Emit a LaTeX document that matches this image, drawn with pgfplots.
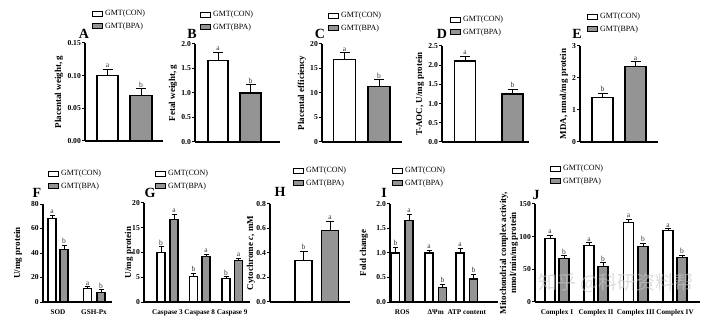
\documentclass[border=0pt]{standalone}
\usepackage{fontspec}
\setmainfont{Liberation Serif}
\newfontfamily\cjk{Noto Sans CJK SC}
\usepackage{pgfplots}
\pgfplotsset{compat=1.18}
\definecolor{barg}{RGB}{148,148,148}
\pgfplotsset{
 panel/.style={
  scale only axis, anchor=south west,
  axis x line*=bottom, axis y line*=left,
  axis line style={-, line width=1.1pt, black},
  xmin=0, ymin=0, enlargelimits=false, clip=false,
  tick align=outside, major tick length=3pt,
  ytick style={line width=1pt, black},
  xtick style={draw=none},
  ticklabel style={font=\bfseries\fontsize{7.6}{8}\selectfont},
  yticklabel style={inner sep=1pt},
  /pgf/number format/assume math mode=true,
  xtick=\empty,
  every axis y label/.style={rotate=90, anchor=center, font=\bfseries\fontsize{9}{10}\selectfont},
  legend style={draw=none, fill=none, at={(axis description cs:0,1)}, anchor=north west, font=\fontsize{8}{9}\selectfont, inner sep=0pt, row sep=1.5pt, cells={anchor=west}},
 },
 yl/.style={ylabel style={at={([xshift=-#1pt]axis description cs:0,0.5)}}},
 cat/.style={xticklabel style={font=\bfseries\fontsize{7.2}{8}\selectfont, yshift=-1pt}},
 con/.style={ybar, bar shift=0pt, fill=white, draw=black, line width=1.1pt,
   legend image code/.code={\draw[fill=white, draw=black, line width=0.9pt] (0pt,-2.4pt) rectangle (10pt,2.6pt);},
   error bars/y dir=plus, error bars/y explicit,
   error bars/error bar style={line width=0.7pt, black},
   error bars/error mark options={rotate=90, mark size=#1, line width=0.7pt, black}},
 con/.default=5pt,
 bpa/.style={ybar, bar shift=0pt, fill=barg, draw=black, line width=1.1pt,
   legend image code/.code={\draw[fill=barg, draw=black, line width=0.9pt] (0pt,-2.4pt) rectangle (10pt,2.6pt);},
   error bars/y dir=plus, error bars/y explicit,
   error bars/error bar style={line width=0.7pt, black},
   error bars/error mark options={rotate=90, mark size=#1, line width=0.7pt, black}},
 bpa/.default=5pt,
 lab/.style={draw=none, forget plot, nodes near coords, point meta=explicit symbolic,
   nodes near coords style={font=\fontsize{7.5}{8}\selectfont, anchor=south, inner sep=1.2pt, text=black!80}},
}
\begin{document}
\begin{tikzpicture}
\useasboundingbox (0,0) rectangle (722pt,321pt);
% ---------------- A
\begin{axis}[panel, at={(85pt,180pt)}, width=78pt, height=98pt, xmax=78, ymax=0.15,
  ytick={0,0.05,0.10,0.15},
  yticklabel style={/pgf/number format/fixed, /pgf/number format/fixed zerofill, /pgf/number format/precision=2},
  ylabel={Placental weight, g}, yl=26,
  legend style={xshift=7pt, yshift=35pt}]
\addplot[con, bar width=21] coordinates {(22.5,0.100) +- (0,0.010)};
\addplot[bpa, bar width=22] coordinates {(56,0.069) +- (0,0.011)};
\addplot[lab] coordinates {(22.5,0.110) [a] (56,0.080) [b]};
\legend{GMT(CON),GMT(BPA)}
\end{axis}
% ---------------- B
\begin{axis}[panel, at={(195pt,179pt)}, width=85pt, height=98pt, xmax=85, ymax=2,
  ytick={0,0.5,1,1.5,2},
  yticklabel style={/pgf/number format/fixed, /pgf/number format/fixed zerofill, /pgf/number format/precision=1},
  ylabel={Fetal weight, g}, yl=22,
  legend style={xshift=5pt, yshift=35pt}]
\addplot[con, bar width=20] coordinates {(23,1.67) +- (0,0.16)};
\addplot[bpa, bar width=21] coordinates {(55.5,1.0) +- (0,0.17)};
\addplot[lab] coordinates {(23,1.83) [a] (55.5,1.17) [b]};
\legend{GMT(CON),GMT(BPA)}
\end{axis}
% ---------------- C
\begin{axis}[panel, at={(322pt,179pt)}, width=80pt, height=98pt, xmax=80, ymax=20,
  ytick={0,5,10,15,20},
  ylabel={Placental efficiency}, yl=20,
  legend style={xshift=6pt, yshift=34pt}]
\addplot[con, bar width=22] coordinates {(22.5,16.8) +- (0,1.4)};
\addplot[bpa, bar width=22] coordinates {(57,11.3) +- (0,1.4)};
\addplot[lab] coordinates {(22.5,18.2) [a] (57,12.7) [b]};
\legend{GMT(CON),GMT(BPA)}
\end{axis}
% ---------------- D
\begin{axis}[panel, at={(442pt,179pt)}, width=87pt, height=96pt, xmax=87, ymax=2.5,
  ytick={0,0.5,1,1.5,2,2.5},
  yticklabel style={/pgf/number format/fixed, /pgf/number format/fixed zerofill, /pgf/number format/precision=1},
  ylabel={T-AOC, U/mg protein}, yl=22,
  legend style={xshift=8pt, yshift=32pt}]
\addplot[con, bar width=21] coordinates {(23,2.11) +- (0,0.12)};
\addplot[bpa, bar width=21] coordinates {(70.5,1.25) +- (0,0.12)};
\addplot[lab] coordinates {(23,2.23) [a] (70.5,1.37) [b]};
\legend{GMT(CON),GMT(BPA)}
\end{axis}
% ---------------- E
\begin{axis}[panel, at={(580pt,179pt)}, width=78pt, height=96pt, xmax=78, ymax=3,
  ytick={0,1,2,3},
  ylabel={MDA, nmol/mg protein}, yl=16,
  legend style={xshift=7pt, yshift=35pt}]
\addplot[con, bar width=21] coordinates {(22.5,1.38) +- (0,0.15)};
\addplot[bpa, bar width=21] coordinates {(55.5,2.36) +- (0,0.15)};
\addplot[lab] coordinates {(22.5,1.53) [b] (55.5,2.51) [a]};
\legend{GMT(CON),GMT(BPA)}
\end{axis}
% ---------------- F
\begin{axis}[panel, cat, at={(43pt,19pt)}, width=69pt, height=98pt, xmax=69, ymax=80,
  ytick={0,20,40,60,80},
  xtick={15,51}, xticklabels={SOD,GSH-Px},
  ylabel={U/mg protein}, yl=25,
  legend style={xshift=5pt, yshift=36pt}]
\addplot[con=2.5pt, bar width=8] coordinates {(9,68) +- (0,3) (44.5,11) +- (0,1.5)};
\addplot[bpa=2.5pt, bar width=8] coordinates {(21,43) +- (0,3.5) (58,8) +- (0,2)};
\addplot[lab] coordinates {(9,71) [a] (21,46.5) [b] (44.5,12.5) [a] (58,10) [b]};
\legend{GMT(CON),GMT(BPA)}
\end{axis}
% ---------------- G
\begin{axis}[panel, cat, at={(144pt,19pt)}, width=106pt, height=99pt, xmax=106, ymax=20,
  ytick={0,5,10,15,20},
  xtick={23.5,55.75,88.25}, xticklabels={Caspase 3,Caspase 8,Caspase 9},
  ylabel={U/mg protein}, yl=15,
  legend style={xshift=11pt, yshift=35pt}]
\addplot[con=2.5pt, bar width=8] coordinates {(17,10) +- (0,1.2) (49.5,5.2) +- (0,0.6) (82,4.8) +- (0,0.35)};
\addplot[bpa=2.5pt, bar width=8] coordinates {(30,16.6) +- (0,1.1) (62,9.2) +- (0,0.5) (94.5,8.4) +- (0,0.4)};
\addplot[lab] coordinates {(17,11.2) [b] (49.5,5.8) [b] (82,5.15) [b] (30,17.7) [a] (62,9.7) [a] (94.5,8.8) [a]};
\legend{GMT(CON),GMT(BPA)}
\end{axis}
% ---------------- H
\begin{axis}[panel, at={(270pt,19pt)}, width=80pt, height=98pt, xmax=80, ymax=0.8,
  ytick={0,0.2,0.4,0.6,0.8},
  yticklabel style={/pgf/number format/fixed, /pgf/number format/fixed zerofill, /pgf/number format/precision=1},
  ylabel={Cytochrome \textit{c}, mM}, yl=19,
  legend style={xshift=23pt, yshift=39pt}]
\addplot[con=4pt, bar width=17] coordinates {(33.5,0.34) +- (0,0.075)};
\addplot[bpa=4pt, bar width=17] coordinates {(60,0.585) +- (0,0.075)};
\addplot[lab] coordinates {(33.5,0.415) [b] (60,0.66) [a]};
\legend{GMT(CON),GMT(BPA)}
\end{axis}
% ---------------- I
\begin{axis}[panel, cat, at={(390pt,19pt)}, width=108pt, height=98pt, xmax=108, ymax=2,
  ytick={0,0.5,1,1.5,2},
  yticklabel style={/pgf/number format/fixed, /pgf/number format/fixed zerofill, /pgf/number format/precision=1},
  xtick={12.25,45.75,76.75}, xticklabels={ROS,ΔΨm,ATP content},
  ylabel={Fold change}, yl=26,
  legend style={xshift=2pt, yshift=39pt}]
\addplot[con=2.5pt, bar width=8] coordinates {(5.5,1.0) +- (0,0.12) (39,1.0) +- (0,0.06) (70,1.0) +- (0,0.1)};
\addplot[bpa=2.5pt, bar width=8] coordinates {(19,1.67) +- (0,0.12) (52.5,0.30) +- (0,0.07) (83.5,0.47) +- (0,0.1)};
\addplot[lab] coordinates {(5.5,1.12) [b] (39,1.06) [a] (70,1.1) [a] (19,1.79) [a] (52.5,0.37) [b] (83.5,0.57) [b]};
\legend{GMT(CON),GMT(BPA)}
\end{axis}
% ---------------- J
\begin{axis}[panel, cat, at={(535pt,19pt)}, width=165pt, height=98pt, xmax=165, ymax=150,
  ytick={0,50,100,150},
  xtick={22,61,100.75,140}, xticklabels={Complex I,Complex II,Complex III,Complex IV},
  ylabel={Mitochondrial complex activity,\\nmol/min/mg protein}, yl=26, ylabel style={align=center},
  legend style={xshift=15pt, yshift=41pt}]
\addplot[con=3pt, bar width=10] coordinates {(15,97) +- (0,5) (54,86) +- (0,5) (93.5,122) +- (0,5) (133,109) +- (0,3)};
\addplot[bpa=3pt, bar width=10] coordinates {(29,66) +- (0,5) (68,55) +- (0,5) (108,85) +- (0,5) (147,68) +- (0,4)};
\addplot[lab] coordinates {(15,102) [a] (54,91) [a] (93.5,127) [a] (133,112) [a] (29,71) [b] (68,60) [b] (108,90) [b] (147,72) [b]};
\legend{GMT(CON),GMT(BPA)}
\end{axis}
% panel letters
\begin{scope}[every node/.style={font=\bfseries\fontsize{14}{14}\selectfont, inner sep=0pt}]
\node at (84pt,287pt) {A};
\node at (192pt,287pt) {B};
\node at (320pt,287pt) {C};
\node at (442pt,287pt) {D};
\node at (577pt,287pt) {E};
\node at (37pt,128pt) {F};
\node at (150pt,128.5pt) {G};
\node at (280pt,129pt) {H};
\node at (384pt,128pt) {I};
\node at (536pt,126pt) {J};
\end{scope}
\node[font=\cjk\fontsize{19}{19}\selectfont, text=gray!45, opacity=0.6, anchor=west, inner sep=0pt] at (538pt,38pt) {知乎 @科研资料帮};
\end{tikzpicture}
\end{document}
